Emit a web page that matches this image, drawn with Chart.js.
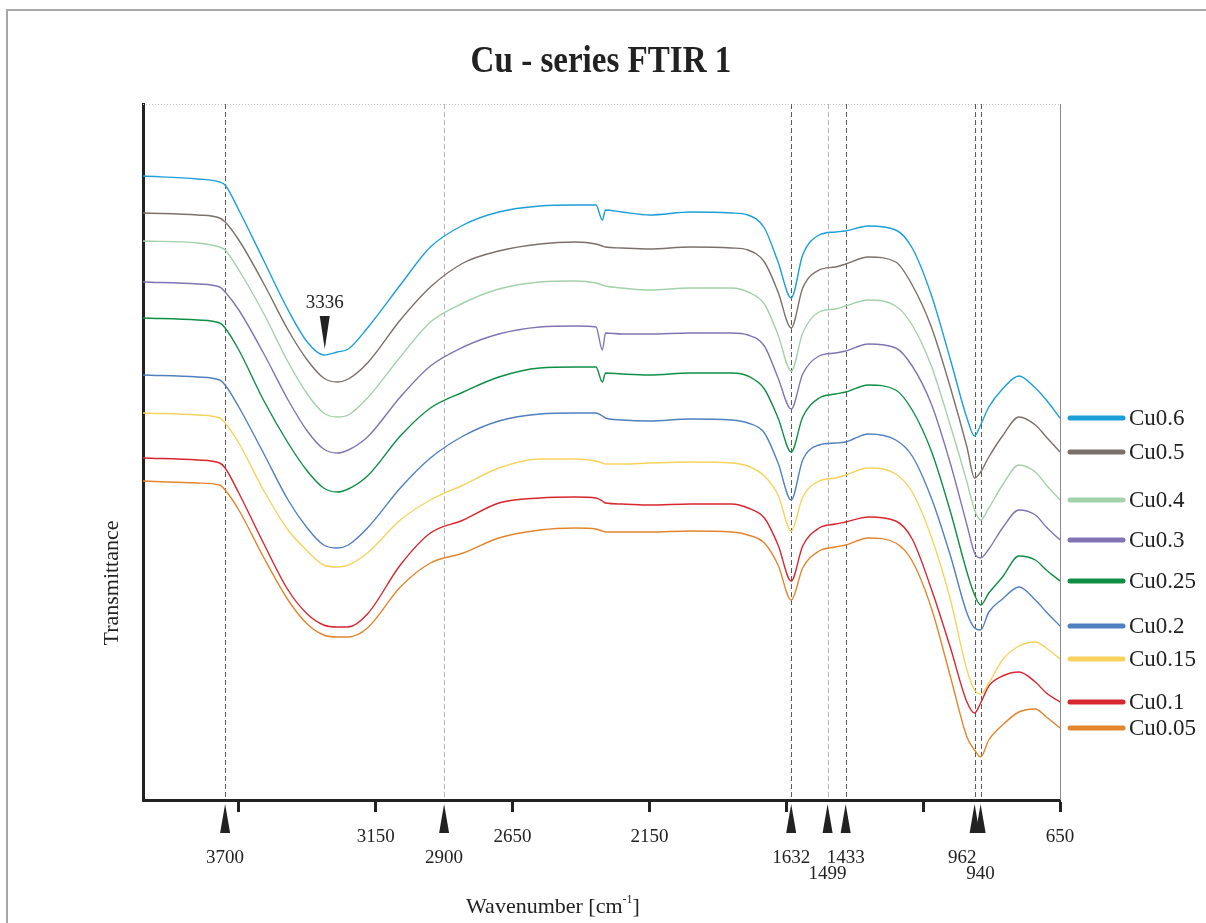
<!DOCTYPE html>
<html>
<head>
<meta charset="utf-8">
<title>Cu - series FTIR 1</title>
<script src="https://cdn.jsdelivr.net/npm/chart.js@4.4.0/dist/chart.umd.min.js"></script>
<style>
  html, body { margin: 0; padding: 0; background: #fff; }
  canvas { display: block; }
</style>
</head>
<body>
<canvas id="ftir" width="1206" height="923"></canvas>
<script>
const wavenumbers = [4000, 3800, 3720, 3700, 3650, 3560, 3470, 3400, 3340, 3290, 3250, 3180, 3060, 2950, 2830, 2700,
  2550, 2420, 2345, 2322, 2310, 2250, 2150, 2000, 1850, 1790, 1730, 1680, 1632, 1590, 1530, 1470, 1433, 1350, 1250,
  1190, 1120, 1050, 990, 962, 940, 910, 860, 800, 740, 700, 650];

// transmittance, arbitrary units (stacked spectra)
const cu06 = [62.4, 62.1, 61.8, 61.5, 59.0, 54.0, 49.0, 45.8, 44.5, 44.8, 45.1, 47.2, 51.5, 55.3, 57.5, 58.8,
  59.4, 59.5, 59.5, 58.0, 59.0, 58.8, 58.5, 58.8, 58.7, 58.5, 57.2, 53.8, 50.2, 54.5, 56.5, 56.8, 56.9, 57.4, 57.0,
  55.2, 50.5, 44.0, 38.2, 36.4, 37.5, 39.3, 41.1, 42.4, 41.2, 40.0, 38.2];
const cu05 = [58.7, 58.5, 58.2, 57.8, 56.0, 51.7, 47.0, 44.0, 42.2, 41.8, 42.1, 43.7, 48.0, 51.3, 53.7, 54.9,
  55.6, 55.8, 55.6, 55.4, 55.3, 55.2, 55.1, 55.3, 55.2, 55.0, 53.8, 50.8, 47.2, 51.2, 53.0, 53.3, 53.6, 54.3, 53.8,
  51.5, 47.3, 41.2, 35.3, 32.2, 32.8, 34.3, 36.4, 38.3, 37.5, 36.3, 34.8];
const cu04 = [55.9, 55.7, 55.3, 55.0, 53.0, 48.7, 43.8, 40.6, 38.7, 38.3, 38.5, 40.2, 44.3, 47.8, 49.7, 51.1,
  51.8, 51.9, 51.7, 51.5, 51.4, 51.2, 51.0, 51.2, 51.2, 50.8, 49.6, 46.5, 42.9, 46.7, 48.8, 49.1, 49.4, 50.0, 49.4,
  47.5, 43.4, 37.4, 31.8, 29.0, 28.0, 29.2, 31.5, 33.5, 32.8, 31.5, 30.0];
const cu03 = [51.8, 51.6, 51.3, 50.8, 49.0, 44.7, 40.0, 36.9, 35.1, 34.7, 35.0, 36.3, 40.3, 43.4, 45.3, 46.6,
  47.3, 47.4, 47.3, 45.0, 46.7, 46.6, 46.6, 46.7, 46.7, 46.5, 45.4, 42.2, 39.1, 42.6, 44.4, 44.7, 44.9, 45.6, 45.2,
  43.4, 39.6, 33.6, 27.5, 24.7, 24.2, 25.1, 27.2, 29.0, 28.5, 27.3, 26.0];
const cu025 = [48.2, 48.0, 47.7, 47.2, 45.0, 40.0, 35.7, 32.9, 31.2, 30.8, 31.1, 32.4, 36.4, 39.2, 40.8, 42.3,
  43.2, 43.3, 43.3, 41.8, 42.7, 42.6, 42.5, 42.7, 42.7, 42.4, 41.1, 38.2, 34.8, 38.3, 40.2, 40.6, 40.8, 41.5, 41.0,
  39.0, 34.9, 28.8, 22.8, 20.5, 19.5, 20.7, 22.3, 24.4, 24.0, 23.0, 21.9];
const cu02 = [42.5, 42.3, 42.0, 41.5, 39.3, 34.7, 30.0, 27.2, 25.5, 25.2, 25.5, 27.2, 31.2, 34.2, 36.4, 37.9,
  38.6, 38.7, 38.7, 38.4, 38.2, 38.0, 37.9, 38.1, 38.0, 37.7, 36.7, 33.7, 30.0, 34.0, 35.5, 35.7, 35.8, 36.6, 36.0,
  34.4, 30.2, 24.4, 18.7, 17.2, 17.0, 18.8, 20.1, 21.3, 20.0, 18.8, 17.4];
const cu015 = [38.7, 38.5, 38.2, 37.7, 35.7, 31.0, 27.0, 24.9, 23.5, 23.3, 23.5, 24.7, 28.0, 30.0, 31.5, 33.2,
  34.1, 34.1, 33.9, 33.7, 33.6, 33.6, 33.7, 33.8, 33.7, 33.4, 32.4, 30.5, 26.9, 30.3, 31.9, 32.2, 32.5, 33.2, 32.6,
  30.8, 26.3, 20.0, 13.0, 11.0, 10.6, 11.7, 14.0, 15.4, 15.8, 15.2, 14.1];
const cu01 = [34.2, 34.0, 33.7, 33.2, 30.7, 25.7, 21.0, 18.6, 17.5, 17.3, 17.3, 18.6, 23.5, 26.7, 28.0, 29.7,
  30.2, 30.3, 30.2, 29.9, 29.7, 29.6, 29.5, 29.6, 29.6, 29.2, 28.2, 25.5, 21.9, 25.4, 27.2, 27.6, 27.8, 28.3, 27.9,
  26.1, 21.1, 15.2, 9.8, 8.7, 9.7, 11.4, 12.4, 12.8, 11.8, 10.7, 9.8];
const cu005 = [31.9, 31.7, 31.5, 31.0, 29.0, 24.3, 20.0, 17.6, 16.5, 16.3, 16.3, 17.2, 21.3, 23.7, 24.7, 26.2,
  27.0, 27.2, 27.1, 26.9, 26.8, 26.8, 26.8, 26.9, 26.8, 26.5, 25.7, 23.5, 20.0, 23.2, 24.9, 25.3, 25.5, 26.2, 25.7,
  23.9, 19.2, 12.3, 6.3, 5.0, 4.3, 6.0, 7.5, 8.8, 9.1, 8.3, 7.2];

const seriesNames = ['Cu0.6', 'Cu0.5', 'Cu0.4', 'Cu0.3', 'Cu0.25', 'Cu0.2', 'Cu0.15', 'Cu0.1', 'Cu0.05'];
const seriesValues = [cu06, cu05, cu04, cu03, cu025, cu02, cu015, cu01, cu005];
const seriesColors = ['#1a9fd8', '#7b706a', '#a3d1aa', '#8274b4', '#0f8e45', '#4f80bf', '#f7d35d', '#d8262f', '#e3852d'];

// axis ticks, and which of them carry a number
const axisTicks = [3650, 3150, 2650, 2150, 1650, 1150, 650];
const tickLabels = [3150, 2650, 2150, 650];

// marked bands
const peakMarks = [3700, 2900, 1632, 1499, 1433, 962, 940];
const peakRow = [0, 0, 0, 1, 0, 0, 1];
const peakAlign = ['center', 'center', 'center', 'center', 'center', 'right', 'center'];
const peakTone = ['#5c5c5c', '#b4b4b4', '#5c5c5c', '#b4b4b4', '#5c5c5c', '#5c5c5c', '#5c5c5c'];
const ohBand = 3336;

const chartTitle = 'Cu - series FTIR 1';
const SERIF = '"Liberation Serif", "Times New Roman", serif';
const INK = '#222';

function tri(ctx, x, tipY, baseY, half) {
  ctx.beginPath();
  ctx.moveTo(x, tipY);
  ctx.lineTo(x - half, baseY);
  ctx.lineTo(x + half, baseY);
  ctx.closePath();
  ctx.fill();
}

const decor = {
  id: 'decor',
  beforeDraw(chart) {
    const ctx = chart.ctx;
    ctx.save();
    ctx.fillStyle = '#fff';
    ctx.fillRect(0, 0, chart.width, chart.height);
    // page frame
    ctx.strokeStyle = '#a8a8a8';
    ctx.lineWidth = 2;
    ctx.beginPath();
    ctx.moveTo(7, chart.height);
    ctx.lineTo(7, 10);
    ctx.lineTo(chart.width, 10);
    ctx.stroke();
    // title
    ctx.fillStyle = INK;
    ctx.font = 'bold 38px ' + SERIF;
    ctx.textAlign = 'center';
    ctx.textBaseline = 'middle';
    ctx.translate(601, 62);
    ctx.scale(0.87, 1);
    ctx.fillText(chartTitle, 0, 0);
    ctx.restore();
  },
  beforeDatasetsDraw(chart) {
    const { ctx, chartArea: a, scales: { x } } = chart;
    ctx.save();
    ctx.lineWidth = 1;
    ctx.strokeStyle = '#c4c4c4';
    ctx.setLineDash([1, 2]);
    ctx.beginPath();
    ctx.moveTo(a.left, a.top + 0.5);
    ctx.lineTo(a.right, a.top + 0.5);
    ctx.stroke();
    ctx.setLineDash([]);
    ctx.strokeStyle = '#8a8a8a';
    ctx.beginPath();
    ctx.moveTo(a.right + 0.5, a.top);
    ctx.lineTo(a.right + 0.5, a.bottom);
    ctx.stroke();
    ctx.setLineDash([5, 3]);
    peakMarks.forEach((w, i) => {
      const px = Math.round(x.getPixelForValue(w)) + 0.5;
      ctx.strokeStyle = peakTone[i];
      ctx.beginPath();
      ctx.moveTo(px, a.top);
      ctx.lineTo(px, a.bottom);
      ctx.stroke();
    });
    ctx.restore();
  },
  afterDatasetsDraw(chart) {
    const { ctx, chartArea: a, scales: { x, y } } = chart;
    ctx.save();
    ctx.fillStyle = INK;
    ctx.textAlign = 'center';
    ctx.textBaseline = 'middle';
    ctx.font = '19px ' + SERIF;

    // band markers under the axis
    peakMarks.forEach((w, i) => {
      const px = x.getPixelForValue(w);
      tri(ctx, px, a.bottom + 4, a.bottom + 33, 5);
      ctx.textAlign = peakAlign[i];
      const lx = peakAlign[i] === 'right' ? px + 2 : px;
      ctx.fillText(String(w), lx, a.bottom + (peakRow[i] ? 74 : 58));
    });

    // O-H band on the top spectrum
    const ox = x.getPixelForValue(ohBand);
    const oy = y.getPixelForValue(cu06[wavenumbers.indexOf(3340)]);
    tri(ctx, ox, oy - 6, oy - 39, 5);
    ctx.textAlign = 'center';
    ctx.fillText(String(ohBand), ox, oy - 52);

    // legend, each entry beside the end of its spectrum
    ctx.textAlign = 'left';
    ctx.font = '23px ' + SERIF;
    ctx.lineCap = 'round';
    ctx.lineWidth = 5;
    seriesNames.forEach((name, i) => {
      const vals = seriesValues[i];
      const ly = y.getPixelForValue(vals[vals.length - 1]);
      ctx.strokeStyle = seriesColors[i];
      ctx.beginPath();
      ctx.moveTo(a.right + 10, ly);
      ctx.lineTo(a.right + 63, ly);
      ctx.stroke();
      ctx.fillText(name, a.right + 69, ly + 1);
    });

    // axis titles
    ctx.font = '22px ' + SERIF;
    ctx.save();
    ctx.translate(112, 583);
    ctx.rotate(-Math.PI / 2);
    ctx.textAlign = 'center';
    ctx.fillText('Transmittance', 0, 0);
    ctx.restore();

    const t1 = 'Wavenumber [cm', t2 = '-1', t3 = ']';
    ctx.textBaseline = 'alphabetic';
    ctx.font = '22px ' + SERIF;
    const w1 = ctx.measureText(t1).width, w3 = ctx.measureText(t3).width;
    ctx.font = '12px ' + SERIF;
    const w2 = ctx.measureText(t2).width;
    const sx = 553 - (w1 + w2 + w3) / 2;
    const base = 913;
    ctx.textAlign = 'left';
    ctx.font = '22px ' + SERIF;
    ctx.fillText(t1, sx, base);
    ctx.font = '12px ' + SERIF;
    ctx.fillText(t2, sx + w1, base - 10);
    ctx.font = '22px ' + SERIF;
    ctx.fillText(t3, sx + w1 + w2, base);
    ctx.restore();
  }
};

new Chart(document.getElementById('ftir'), {
  type: 'line',
  data: {
    datasets: seriesNames.map((name, i) => ({
      label: name,
      data: wavenumbers.map((w, k) => ({ x: w, y: seriesValues[i][k] })),
      borderColor: seriesColors[i],
      borderWidth: 1.4,
      pointRadius: 0,
      fill: false,
      cubicInterpolationMode: 'monotone'
    }))
  },
  options: {
    responsive: false,
    animation: false,
    devicePixelRatio: 1,
    events: [],
    layout: { autoPadding: false, padding: { left: 143, right: 146, top: 104, bottom: 60.2 } },
    plugins: { legend: { display: false }, tooltip: { enabled: false }, title: { display: false } },
    scales: {
      x: {
        type: 'linear',
        reverse: true,
        min: 650,
        max: 4000,
        afterBuildTicks: axis => { axis.ticks = axisTicks.map(v => ({ value: v })); },
        ticks: {
          autoSkip: false,
          maxRotation: 0,
          padding: 14,
          color: INK,
          font: { family: SERIF, size: 19 },
          callback: v => tickLabels.includes(v) ? String(v) : ''
        },
        grid: { drawOnChartArea: false, drawTicks: true, tickLength: 12, tickWidth: 3, tickColor: INK },
        border: { color: INK, width: 3 }
      },
      y: {
        min: 0,
        max: 69.6,
        ticks: { display: false },
        grid: { drawOnChartArea: false, drawTicks: false },
        border: { color: INK, width: 3 }
      }
    }
  },
  plugins: [decor]
});
</script>
</body>
</html>
